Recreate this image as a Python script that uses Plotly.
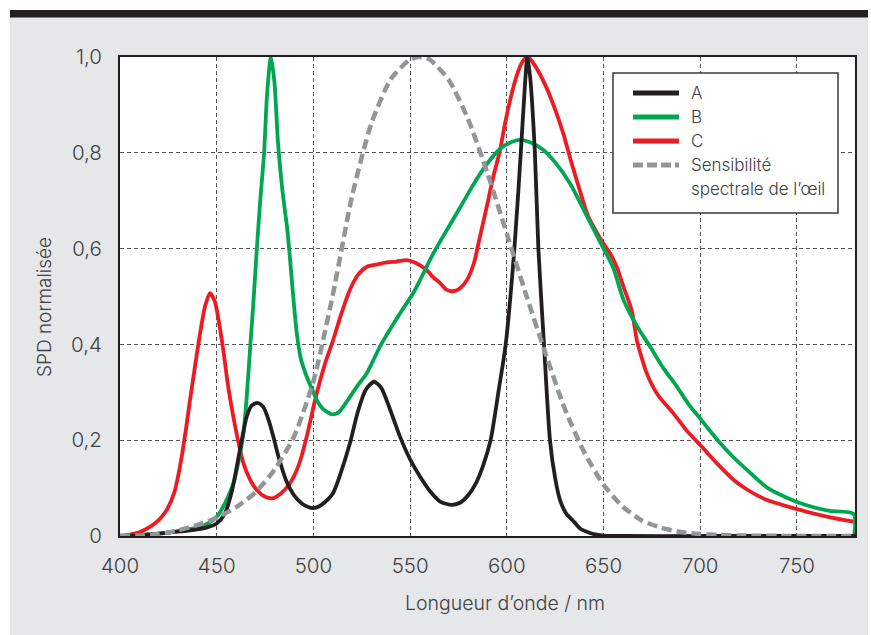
import plotly.graph_objects as go

# ---------------- data ----------------
a_x = [400, 410, 420, 430, 440, 445, 450, 454, 458, 462, 465.5, 468, 471, 474, 477, 479.3, 482, 486,
       490, 494, 497, 500, 503, 506, 510.2, 514, 518.9, 523, 527, 531.3, 535, 540, 544.8, 550, 555.1, 560,
       565.5, 571.5, 576, 580, 584, 588, 591.6, 596, 599.4, 603.9, 607.2, 609.5, 610.6, 612, 614.5, 616.3,
       619.2, 622.3, 625, 627.5, 631, 634, 638, 641.3, 645, 650, 660, 700, 740, 780]
a_y = [0, 0.002, 0.005, 0.009, 0.014, 0.018, 0.026, 0.045, 0.096, 0.18, 0.249, 0.272, 0.278, 0.27, 0.24,
       0.207, 0.165, 0.115, 0.085, 0.068, 0.061, 0.058, 0.062, 0.071, 0.09, 0.13, 0.194, 0.26, 0.305, 0.322,
       0.31, 0.26, 0.207, 0.16, 0.124, 0.095, 0.072, 0.065, 0.07, 0.085, 0.11, 0.15, 0.2, 0.31, 0.4, 0.6,
       0.8, 0.95, 1.0, 0.96, 0.8, 0.6, 0.4, 0.2, 0.12, 0.075, 0.045, 0.033, 0.015, 0.009, 0.004, 0.001, 0,
       0, 0, 0]

b_x = [400, 410, 420, 430, 440, 445, 450, 454.5, 458.6, 461, 463.8, 465.5, 467.2, 469, 470.7, 472.5,
       474.5, 476, 478, 479.8, 481.7, 484, 486.5, 488.5, 490, 491.4, 493.5, 496.5, 500, 501.7, 505, 509.5,
       513, 518, 523, 527.6, 535, 544.8, 552, 562, 569, 575, 581, 586, 591.3, 597, 601, 606.8, 612, 618.9,
       625, 632.7, 638, 643, 650, 655, 660.3, 667, 674.1, 681, 687.9, 694, 700, 709, 717, 725, 735, 750,
       766, 779.3, 779.6]
b_y = [0, 0.002, 0.005, 0.01, 0.018, 0.025, 0.04, 0.07, 0.11, 0.15, 0.214, 0.29, 0.388, 0.49, 0.597, 0.7,
       0.8, 0.92, 1.0, 0.95, 0.82, 0.72, 0.64, 0.55, 0.48, 0.423, 0.37, 0.333, 0.3, 0.284, 0.265, 0.254,
       0.258, 0.285, 0.315, 0.34, 0.4, 0.465, 0.51, 0.59, 0.639, 0.68, 0.722, 0.755, 0.785, 0.81, 0.82,
       0.827, 0.822, 0.806, 0.78, 0.736, 0.695, 0.655, 0.6, 0.56, 0.493, 0.44, 0.395, 0.35, 0.312, 0.275,
       0.245, 0.2, 0.165, 0.135, 0.1, 0.071, 0.053, 0.046, 0.0]

c_x = [400, 403.4, 410, 415.5, 420, 424.1, 428, 431, 434, 436.2, 439, 441.4, 444, 446.5, 449, 451, 453.4,
       456, 458.6, 461, 463.8, 467, 470.7, 475, 479.3, 483, 487, 490, 493, 496.5, 501.7, 506, 510.2, 514.5,
       518.9, 523, 527.6, 533, 537.9, 543, 548.2, 553, 558.6, 562, 565.5, 568.5, 571.5, 575, 579.3, 583,
       586.1, 589.6, 593, 596.5, 599, 601.7, 605, 608, 611, 614, 617, 620.6, 625, 629.2, 633, 636.1, 642.1,
       647, 650, 653.4, 657, 660.3, 664.5, 667.2, 669, 672.3, 678, 686.1, 693, 701.6, 709, 717.3, 725,
       734.6, 750, 766, 779.3]
c_y = [0, 0.002, 0.008, 0.019, 0.033, 0.054, 0.09, 0.145, 0.22, 0.284, 0.36, 0.423, 0.48, 0.507, 0.49,
       0.45, 0.388, 0.31, 0.249, 0.2, 0.152, 0.12, 0.096, 0.082, 0.079, 0.088, 0.105, 0.125, 0.155, 0.207,
       0.298, 0.36, 0.409, 0.465, 0.514, 0.545, 0.562, 0.567, 0.571, 0.573, 0.576, 0.57, 0.555, 0.54, 0.528,
       0.515, 0.511, 0.515, 0.534, 0.57, 0.625, 0.687, 0.75, 0.806, 0.86, 0.91, 0.96, 0.99, 1.0, 0.985,
       0.965, 0.935, 0.89, 0.84, 0.785, 0.743, 0.667, 0.63, 0.61, 0.59, 0.56, 0.52, 0.472, 0.409, 0.382,
       0.34, 0.295, 0.256, 0.22, 0.183, 0.15, 0.117, 0.095, 0.075, 0.056, 0.04, 0.03]

v_x = [400, 410, 420, 430, 440, 450, 460, 470, 480, 490, 500, 510, 520, 530, 540, 550, 555, 560, 570,
       580, 590, 600, 610, 620, 630, 640, 650, 660, 670, 680, 690, 700, 710, 720, 730, 740, 750, 760,
       770, 780]
v_y = [0.0004, 0.0012, 0.004, 0.0116, 0.023, 0.038, 0.06, 0.091, 0.139, 0.208, 0.323, 0.503, 0.71,
       0.862, 0.954, 0.995, 1.0, 0.995, 0.952, 0.87, 0.757, 0.631, 0.503, 0.381, 0.265, 0.175, 0.107,
       0.061, 0.032, 0.017, 0.0082, 0.0041, 0.0021, 0.00105, 0.00052, 0.00025, 0.00012, 0.00006,
       0.00003, 0.000015]

x_ticks = [400, 450, 500, 550, 600, 650, 700, 750]
x_ticktext = ["400", "450", "500", "550", "600", "650", "700", "750"]
y_ticks = [0, 0.2, 0.4, 0.6, 0.8, 1.0]
y_ticktext = ["0", "0,2", "0,4", "0,6", "0,8", "1,0"]

names = ["A", "B", "C", "Sensibilité", "spectrale de l’œil"]
colors = ["#231f20", "#00a651", "#ed1c24", "#939598"]
x_title = "Longueur d’onde / nm"
y_title = "SPD normalisée"

# ---------------- figure ----------------
FONT = "Inter"
TXT = "#414042"
WEIGHT = 300
LW = 3.8

fig = go.Figure()
fig.add_trace(go.Scatter(x=c_x, y=c_y, name="C", mode="lines",
                         line=dict(color=colors[2], width=LW, shape="spline", smoothing=0.7)))
fig.add_trace(go.Scatter(x=b_x, y=b_y, name="B", mode="lines",
                         line=dict(color=colors[1], width=LW, shape="spline", smoothing=0.7)))
fig.add_trace(go.Scatter(x=a_x, y=a_y, name="A", mode="lines",
                         line=dict(color=colors[0], width=LW, shape="spline", smoothing=0.7)))
fig.add_trace(go.Scatter(x=v_x, y=v_y, name="Sensibilité spectrale de l’œil", mode="lines",
                         line=dict(color=colors[3], width=4.5, dash="10px,5px", shape="spline",
                                   smoothing=0.6)))

L, R, T, B = 120, 16, 57, 99
W, H = 871, 635
pw, ph = W - L - R, H - T - B


def px(x):
    return (x - L) / pw


def py(y):
    return (H - B - y) / ph


shapes = [
    # white outer strips
    dict(type="rect", xref="paper", yref="paper", x0=px(-5), x1=px(W + 5), y0=py(10), y1=py(-5),
         fillcolor="white", line_width=0, layer="below"),
    dict(type="rect", xref="paper", yref="paper", x0=px(-5), x1=px(10), y0=py(H + 5), y1=py(-5),
         fillcolor="white", line_width=0, layer="below"),
    dict(type="rect", xref="paper", yref="paper", x0=px(868), x1=px(W + 5), y0=py(H + 5), y1=py(-5),
         fillcolor="white", line_width=0, layer="below"),
    # dark top bar
    dict(type="rect", xref="paper", yref="paper", x0=px(10), x1=px(868), y0=py(17.5), y1=py(10),
         fillcolor="#231f20", line_width=0, layer="below"),
    # legend box
    dict(type="rect", xref="paper", yref="paper", x0=px(613), x1=px(838), y0=py(213), y1=py(73),
         fillcolor="white", line=dict(color="#3a3a3a", width=1.5), layer="above"),
]

annotations = []
leg_rows = [93, 117, 141, 165]
for i, yy in enumerate(leg_rows):
    shapes.append(dict(type="line", xref="paper", yref="paper", x0=px(633), x1=px(679),
                       y0=py(yy), y1=py(yy),
                       line=dict(color=colors[i], width=5, dash="10px,4px" if i == 3 else "solid"),
                       layer="above"))
    annotations.append(dict(xref="paper", yref="paper", x=px(689), y=py(yy), xanchor="left",
                            yanchor="middle", showarrow=False, text=names[i],
                            font=dict(family=FONT, size=17, color=TXT, weight=WEIGHT)))
annotations.append(dict(xref="paper", yref="paper", x=px(689), y=py(189), xanchor="left",
                        yanchor="middle", showarrow=False, text=names[4],
                        font=dict(family=FONT, size=17, color=TXT, weight=WEIGHT)))
# axis titles
annotations.append(dict(xref="paper", yref="paper", x=px(505), y=py(603), xanchor="center",
                        yanchor="middle", showarrow=False, text=x_title,
                        font=dict(family=FONT, size=19.5, color=TXT, weight=WEIGHT)))
annotations.append(dict(xref="paper", yref="paper", x=px(44), y=py(307), xanchor="center",
                        yanchor="middle", showarrow=False, text=y_title, textangle=-90,
                        font=dict(family=FONT, size=19, color=TXT, weight=WEIGHT)))

fig.update_layout(
    width=W, height=H,
    margin=dict(l=L, r=R, t=T, b=B, pad=0),
    paper_bgcolor="#e6e7e8",
    plot_bgcolor="white",
    shapes=shapes,
    annotations=annotations,
    font=dict(family=FONT, color=TXT, size=16, weight=WEIGHT),
    showlegend=False,
    xaxis=dict(
        range=[400, 780], tickvals=x_ticks, ticktext=x_ticktext,
        showgrid=True, gridcolor="#555555", gridwidth=1, griddash="4px,3px",
        showline=True, linecolor="#231f20", linewidth=2, mirror=True,
        ticks="", ticklabelstandoff=10, zeroline=False, automargin=False,
        tickfont=dict(family=FONT, size=20.5, color=TXT, weight=WEIGHT),
    ),
    yaxis=dict(
        range=[0, 1.0], tickvals=y_ticks, ticktext=y_ticktext,
        showgrid=True, gridcolor="#555555", gridwidth=1, griddash="4px,3px",
        showline=True, linecolor="#231f20", linewidth=2, mirror=True,
        ticks="", ticklabelstandoff=12, zeroline=False, automargin=False,
        tickfont=dict(family=FONT, size=20.5, color=TXT, weight=WEIGHT),
    ),
)

fig.write_html("out.html", config={"displayModeBar": False},
               post_script="document.body.style.margin='0';")
